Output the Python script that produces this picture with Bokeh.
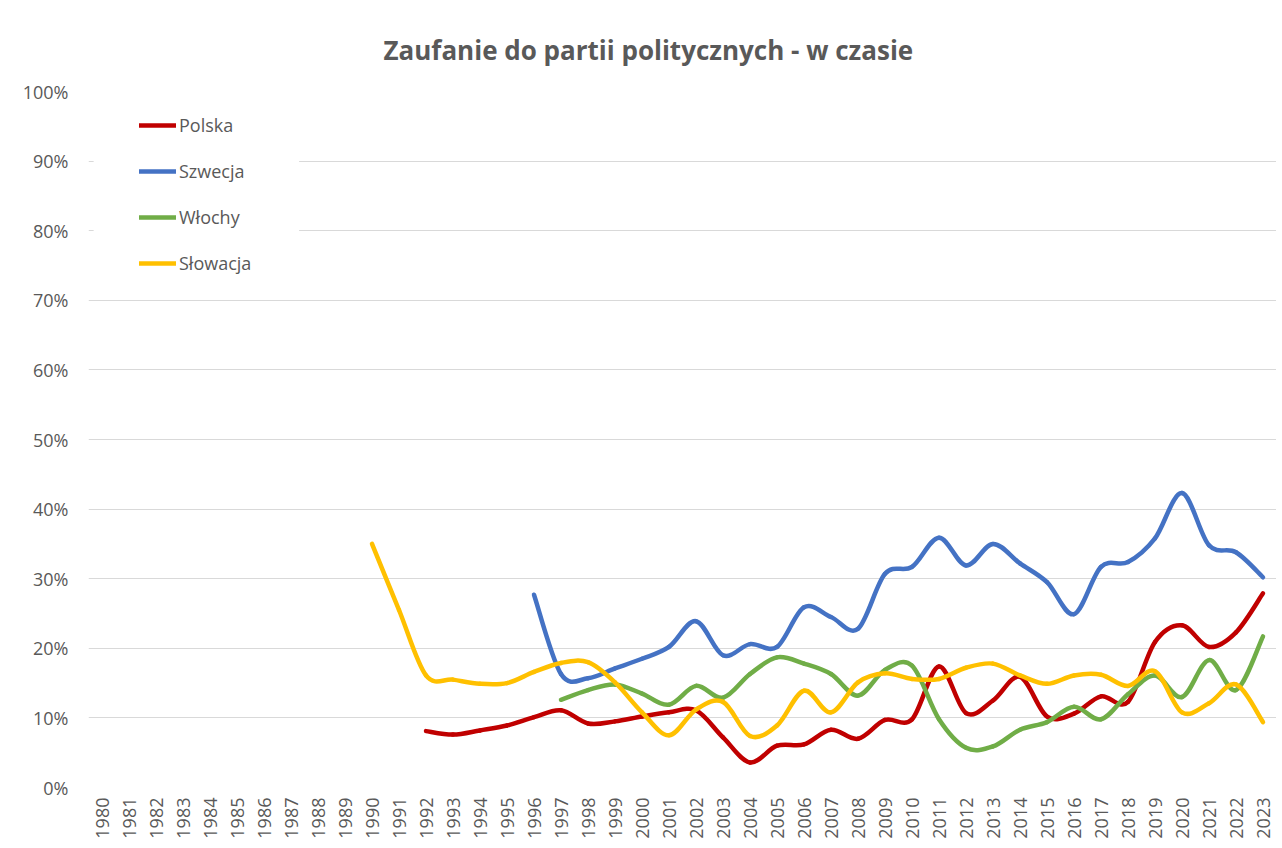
import math
from bokeh.plotting import figure
from bokeh.models import (ColumnDataSource, FixedTicker, NumeralTickFormatter, Legend,
                          LegendItem, BoxAnnotation, Range1d)
from bokeh.embed import file_html
from bokeh.resources import INLINE

# ---------------- data ----------------
years = list(range(1980, 2024))

polska = [None] * 12 + [8.1, 7.6, 8.2, 8.9, 10.1, 11.1, 9.2, 9.5, 10.2, 10.8, 11.1, 7.2,
                        3.6, 6.0, 6.2, 8.3, 7.0, 9.7, 9.8, 17.4, 10.7, 12.5, 15.9, 10.2,
                        10.6, 13.1, 12.3, 20.9, 23.3, 20.2, 22.3, 27.9]
szwecja = [None] * 16 + [27.7, 16.3, 15.7, 17.1, 18.5, 20.2, 23.9, 19.0, 20.6, 20.2,
                         25.9, 24.5, 22.8, 30.7, 31.7, 35.9, 31.9, 35.0, 32.2, 29.5,
                         24.9, 31.7, 32.4, 35.8, 42.3, 34.8, 33.8, 30.2]
wlochy = [None] * 17 + [12.6, 14.0, 14.8, 13.5, 11.9, 14.6, 12.9, 16.3, 18.7, 17.8,
                        16.3, 13.2, 16.9, 17.5, 9.8, 5.7, 5.9, 8.3, 9.4, 11.6, 9.8,
                        13.4, 16.1, 13.0, 18.3, 14.0, 21.7]
slowacja = [None] * 10 + [35.0, 25.5, 16.1, 15.5, 14.9, 15.0, 16.6, 17.9, 18.0, 15.1,
                          10.8, 7.5, 11.2, 12.3, 7.4, 8.9, 13.9, 10.8, 15.1, 16.4, 15.6,
                          15.6, 17.2, 17.8, 16.1, 14.9, 16.1, 16.2, 14.6, 16.7, 10.8,
                          12.1, 14.8, 9.4]

series_names = ["Polska", "Szwecja", "Włochy", "Słowacja"]
series_values = [polska, szwecja, wlochy, slowacja]
series_colors = ["#C00000", "#4472C4", "#70AD47", "#FFC000"]

TEXT = "#595959"
FONT = "Open Sans"


def smooth_segments(xs, ys):
    """Bezier control points (Catmull-Rom style, like Excel's smoothed line)."""
    pts = [(x, y / 100.0) for x, y in zip(xs, ys) if y is not None]
    n = len(pts)
    d = dict(x0=[], y0=[], x1=[], y1=[], cx0=[], cy0=[], cx1=[], cy1=[])
    for i in range(n - 1):
        p0 = pts[i - 1] if i > 0 else pts[i]
        p1 = pts[i]
        p2 = pts[i + 1]
        p3 = pts[i + 2] if i + 2 < n else pts[i + 1]
        d["x0"].append(p1[0]); d["y0"].append(p1[1])
        d["x1"].append(p2[0]); d["y1"].append(p2[1])
        d["cx0"].append(p1[0] + (p2[0] - p0[0]) / 6.0)
        d["cy0"].append(p1[1] + (p2[1] - p0[1]) / 6.0)
        d["cx1"].append(p2[0] - (p3[0] - p1[0]) / 6.0)
        d["cy1"].append(p2[1] - (p3[1] - p1[1]) / 6.0)
    return d


p = figure(width=1276, height=845, output_backend="svg", toolbar_location=None,
           x_range=Range1d(1979.5, 2023.5), y_range=Range1d(0, 1),
           min_border_left=88, min_border_right=0, min_border_top=91, min_border_bottom=58,
           title="Zaufanie do partii politycznych - w czasie")

p.outline_line_color = None
p.background_fill_color = "white"
p.border_fill_color = "white"

p.title.align = "left"
p.title.text_font = FONT
p.title.text_font_size = "26px"
p.title.text_font_style = "bold"
p.title.text_color = TEXT
p.title.standoff = 48
p.title.offset = 295

# axes
p.xaxis.ticker = FixedTicker(ticks=years)
p.xaxis.major_label_orientation = math.pi / 2
p.yaxis.ticker = FixedTicker(ticks=[i / 10 for i in range(11)])
p.yaxis.formatter = NumeralTickFormatter(format="0%")
for ax in (p.xaxis, p.yaxis):
    ax.axis_line_color = None
    ax.major_tick_line_color = None
    ax.minor_tick_line_color = None
    ax.major_tick_out = 0
    ax.major_label_text_color = TEXT
    ax.major_label_text_font = FONT
p.yaxis.major_label_text_font_size = "18px"
p.yaxis.major_label_standoff = 20
p.xaxis.major_label_text_font_size = "18px"
p.xaxis.major_label_standoff = 10

p.xgrid.grid_line_color = None
p.ygrid.grid_line_color = "#D9D9D9"
p.ygrid.grid_line_width = 1
p.ygrid.ticker = FixedTicker(ticks=[i / 10 for i in range(11)])

items = []
for name, vals, col in zip(series_names, series_values, series_colors):
    src = ColumnDataSource(smooth_segments(years, vals))
    r = p.bezier(x0="x0", y0="y0", x1="x1", y1="y1", cx0="cx0", cy0="cy0",
                 cx1="cx1", cy1="cy1", source=src, line_color=col, line_width=4.5,
                 line_cap="round", line_join="round")
    items.append(LegendItem(label=name, renderers=[r]))

# white legend background (covers gridlines behind the legend, as in Excel)
p.add_layout(BoxAnnotation(left=1979.69, right=1987.3, top=0.985, bottom=0.72,
                           fill_color="white", fill_alpha=1.0, line_color=None))

legend = Legend(items=items, location=(51, 512))
legend.background_fill_alpha = 0
legend.border_line_color = None
legend.padding = 10
legend.spacing = 22
legend.glyph_width = 37
legend.glyph_height = 24
legend.label_height = 24
legend.label_standoff = 3
legend.label_text_font = FONT
legend.label_text_font_size = "18px"
legend.label_text_color = TEXT
p.add_layout(legend, "center")

open("out.html", "w").write(file_html(p, INLINE))
